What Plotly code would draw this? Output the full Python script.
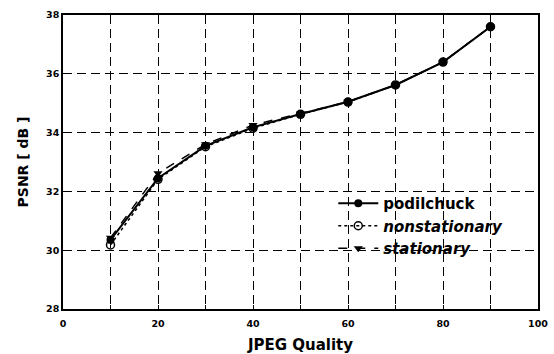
import plotly.graph_objects as go

quality = [10, 20, 30, 40, 50, 60, 70, 80, 90]
podilchuck = [30.35, 32.45, 33.55, 34.18, 34.63, 35.05, 35.62, 36.4, 37.6]
nonstationary = [30.18, 32.41, 33.52, 34.15, 34.62, 35.04, 35.62, 36.4, 37.6]
stationary = [30.42, 32.62, 33.6, 34.26, 34.65, 35.05, 35.62, 36.4, 37.6]

x_tickvals = [0, 10, 20, 30, 40, 50, 60, 70, 80, 90, 100]
x_ticktext = ["0", "", "20", "", "40", "", "60", "", "80", "", "100"]
y_tickvals = [28, 30, 32, 34, 36, 38]

FONT = "DejaVu Sans"

fig = go.Figure()
fig.add_trace(go.Scatter(x=quality, y=podilchuck, mode="lines+markers",
                         name="podilchuck",
                         line=dict(color="black", width=2),
                         marker=dict(symbol="circle", size=8, color="black")))
fig.add_trace(go.Scatter(x=quality, y=nonstationary, mode="lines+markers",
                         name="<i>nonstationary</i>",
                         line=dict(color="black", width=1.5, dash="dot"),
                         marker=dict(symbol="circle-open", size=8, color="black",
                                     line=dict(width=1.5))))
fig.add_trace(go.Scatter(x=quality, y=stationary, mode="lines+markers",
                         name="<i>stationary</i>",
                         line=dict(color="black", width=1.5, dash="dash"),
                         marker=dict(symbol="triangle-down", size=8, color="black")))

tickfont = dict(family=FONT, size=9.5, color="black", weight="bold")
axis_common = dict(showline=True, linecolor="black", linewidth=1.5, mirror=True,
                   showgrid=True, gridcolor="black", gridwidth=1.4, griddash="9px,5px",
                   zeroline=False, ticks="inside", ticklen=4, tickcolor="black",
                   automargin=False, tickfont=tickfont)

fig.update_xaxes(range=[0, 100], tickvals=x_tickvals, ticktext=x_ticktext,
                 ticklabelstandoff=5,
                 title=dict(text="JPEG Quality", standoff=11,
                            font=dict(family=FONT, size=15, color="black",
                                      weight="bold")),
                 **axis_common)
fig.update_yaxes(range=[28, 38], tickvals=y_tickvals,
                 title=dict(text="PSNR [ dB ]", standoff=14,
                            font=dict(family=FONT, size=14, color="black",
                                      weight="bold")),
                 **axis_common)

fig.update_layout(
    width=554, height=354,
    margin=dict(l=63, r=16, t=15, b=45),
    plot_bgcolor="white", paper_bgcolor="white",
    font=dict(family=FONT, color="black"),
    legend=dict(x=0.569, y=0.415, xanchor="left", yanchor="top",
                bgcolor="rgba(0,0,0,0)",
                font=dict(size=15, weight="bold", family=FONT),
                tracegroupgap=0, itemwidth=40),
)

fig.write_html("out.html")
